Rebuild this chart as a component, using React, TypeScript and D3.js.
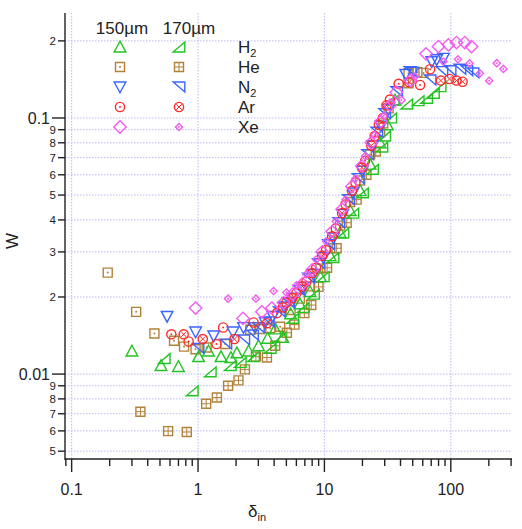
import React, { useEffect, useRef } from 'react';
import * as d3 from 'd3';

// [delta_in, W] pairs
const h2_150 = [[0.30,0.0123],[0.51,0.0108],[0.70,0.0107],[1.01,0.0117],[1.21,0.0123],[1.52,0.0117],[1.82,0.0116],[2.03,0.0121],[2.51,0.0123],[3.01,0.0129],[3.55,0.0138],[4.08,0.0150],[4.68,0.0139],[5.4,0.0172],[6.4,0.0188],[7.7,0.021],[9.3,0.024],[11.1,0.029],[13.3,0.0357],[16,0.0435],[19.2,0.052],[23,0.066],[27.6,0.080],[31.5,0.094],[36.2,0.1175]];
const h2_170 = [[0.54,0.0115],[0.90,0.0086],[1.25,0.0102],[1.80,0.0108],[2.16,0.0111],[2.75,0.0117],[3.73,0.0126],[4.47,0.0139],[5.6,0.0165],[6.8,0.0182],[8.2,0.0205],[9.8,0.024],[11.7,0.0285],[14,0.0355],[16.8,0.0425],[20,0.051],[24,0.063],[28.5,0.077],[30,0.085],[33.5,0.100],[35,0.1175],[44.8,0.1134],[55.2,0.1168],[64.4,0.1194],[72.9,0.1249],[82.3,0.1325]];
const he_150 = [[0.193,0.0249],[0.324,0.0175],[0.452,0.0144],[0.646,0.0135],[0.775,0.0128],[0.956,0.0125],[1.17,0.0127],[1.64,0.0131],[2.59,0.0149],[3.11,0.0150],[3.73,0.0151],[4.47,0.0153],[5.4,0.0178],[6.4,0.0197],[7.7,0.022],[9.3,0.0258],[11.1,0.031],[13.3,0.038],[16,0.047],[19.2,0.057],[23,0.072],[27.6,0.088],[32.2,0.109],[46.3,0.1495],[54.4,0.151],[60.8,0.150]];
const he_170 = [[0.35,0.00713],[0.58,0.00599],[0.815,0.00594],[1.16,0.00766],[1.41,0.0081],[1.73,0.0090],[2.09,0.00945],[2.35,0.01043],[2.87,0.0117],[3.51,0.0116],[4.08,0.0129],[5.05,0.0145],[5.79,0.0156],[6.94,0.0173],[7.87,0.0186],[8.98,0.0219],[10.5,0.026],[12.5,0.031],[15,0.039],[18,0.048],[21.5,0.060],[25.5,0.074],[29.2,0.0953],[46.3,0.1367]];
const n2_150 = [[0.569,0.0168],[0.957,0.0146],[1.33,0.0141],[1.89,0.0146],[2.29,0.0152],[2.82,0.0152],[3.40,0.0159],[3.91,0.0168],[4.8,0.0183],[5.7,0.0198],[6.8,0.0218],[8.2,0.0245],[9.8,0.0285],[11.8,0.034],[14,0.042],[16.8,0.051],[20,0.062],[24,0.078],[28,0.093],[32,0.108],[44,0.148],[50,0.151],[70.7,0.166],[77.3,0.169],[87.4,0.171]];
const n2_170 = [[1.0,0.0126],[1.66,0.0131],[2.30,0.0136],[2.7,0.0142],[3.0,0.0152],[3.6,0.016],[4.4,0.0175],[5.2,0.019],[6.3,0.0212],[7.5,0.0237],[9.0,0.027],[10.8,0.032],[13,0.039],[15.5,0.048],[18.5,0.058],[22,0.072],[26,0.088],[30,0.104],[37.3,0.1267],[47.7,0.1518],[68.6,0.1407],[85,0.1518],[98.7,0.153],[118,0.155],[134,0.153],[150,0.150]];
const ar_150 = [[0.615,0.0143],[0.843,0.0134],[1.40,0.0131],[1.58,0.0152],[2.75,0.0159],[4.21,0.0173],[5.0,0.019],[6.0,0.0207],[7.2,0.023],[8.6,0.026],[10.3,0.0305],[12.3,0.037],[14.7,0.046],[17.6,0.056],[21,0.068],[25,0.085],[29,0.100],[33,0.118],[38.7,0.136],[57.2,0.1346],[68.6,0.155]];
const ar_170 = [[0.77,0.0143],[1.09,0.0137],[1.94,0.0137],[3.51,0.0158],[4.7,0.0182],[5.6,0.0198],[6.7,0.022],[8.0,0.0248],[9.6,0.029],[11.5,0.0345],[13.8,0.0425],[16.5,0.052],[19.8,0.064],[23.5,0.078],[27,0.094],[31,0.112],[47,0.138],[83.5,0.140],[97.6,0.142],[111,0.140],[124,0.1385]];
const xe_150 = [[0.957,0.0181],[2.27,0.0165],[3.20,0.0175],[3.84,0.0181],[4.75,0.0190],[5.6,0.0205],[6.7,0.0225],[8.0,0.0255],[9.6,0.030],[11.5,0.036],[13.8,0.044],[16.5,0.054],[19.8,0.065],[23.5,0.080],[28,0.097],[33,0.112],[37,0.126],[48,0.140],[63.7,0.178],[79.9,0.190],[95.7,0.193],[111,0.197],[129,0.197],[146,0.190]];
const xe_170 = [[1.73,0.0197],[2.87,0.0197],[3.96,0.0211],[5.0,0.0208],[6.0,0.0222],[7.2,0.0245],[8.6,0.028],[10.3,0.033],[12.3,0.0395],[14.7,0.048],[17.6,0.058],[21,0.071],[25,0.086],[29.5,0.102],[34,0.115],[40.8,0.1175],[52,0.145],[87.4,0.166],[114,0.1695],[141,0.1636],[170,0.1494],[201,0.1398],[231,0.1637],[261,0.1555]];

const gases = ['H2', 'He', 'N2', 'Ar', 'Xe'];
const xTicks = [0.1, 1, 10, 100];
const xTickLabels = ['0.1', '1', '10', '100'];
const yMajor = [0.01, 0.1];
const yMajorLabels = ['0.01', '0.1'];

const GREEN = '#22c322';
const BROWN = '#b2823a';
const BLUE = '#3a66ff';
const RED = '#ff2a2a';
const PINK = '#f45cf0';

const series = [
  { data: he_170, color: BROWN, shape: 'square', deco: 'plus', size: 4.5, row: 1, col: 1 },
  { data: he_150, color: BROWN, shape: 'square', deco: 'dot', size: 4.5, row: 1, col: 0 },
  { data: h2_170, color: GREEN, shape: 'rtri', deco: null, size: 5.8, row: 0, col: 1 },
  { data: h2_150, color: GREEN, shape: 'up', deco: null, size: 5.8, row: 0, col: 0 },
  { data: n2_170, color: BLUE, shape: 'ltri', deco: null, size: 5.8, row: 2, col: 1 },
  { data: n2_150, color: BLUE, shape: 'down', deco: null, size: 5.8, row: 2, col: 0 },
  { data: ar_170, color: RED, shape: 'circle', deco: 'x', size: 4.6, row: 3, col: 1 },
  { data: ar_150, color: RED, shape: 'circle', deco: 'dot', size: 4.6, row: 3, col: 0 },
  { data: xe_170, color: PINK, shape: 'diamond', deco: 'dot', size: 3.6, row: 4, col: 1 },
  { data: xe_150, color: PINK, shape: 'diamond', deco: null, size: 6.2, row: 4, col: 0 },
];

function shapePath(shape, s) {
  const h = s * 0.85;
  switch (shape) {
    case 'up': return `M0,${-s}L${s},${h}L${-s},${h}Z`;
    case 'down': return `M${-s},${-h}L${s},${-h}L0,${s}Z`;
    case 'rtri': return `M${-s},${h}L${s},${h}L${s},${-h}Z`;
    case 'ltri': return `M${-s},${-h}L${s},${-h}L${s},${h}Z`;
    case 'square': return `M${-s},${-s}H${s}V${s}H${-s}Z`;
    case 'diamond': return `M0,${-s}L${s},0L0,${s}L${-s},0Z`;
    default: return `M${s},0A${s},${s} 0 1,1 ${-s},0A${s},${s} 0 1,1 ${s},0Z`;
  }
}

function decoPath(deco, s) {
  if (deco === 'plus') return `M${-s},0H${s}M0,${-s}V${s}`;
  if (deco === 'x') { const d = s * 0.6; return `M${-d},${-d}L${d},${d}M${-d},${d}L${d},${-d}`; }
  return null;
}

function drawMarker(g, sr, x, y) {
  const m = g.append('g').attr('transform', `translate(${x},${y})`);
  m.append('path')
    .attr('d', shapePath(sr.shape, sr.size))
    .attr('fill', 'none')
    .attr('stroke', sr.color)
    .attr('stroke-width', 1.4);
  const dp = decoPath(sr.deco, sr.size);
  if (dp) m.append('path').attr('d', dp).attr('stroke', sr.color).attr('stroke-width', 1);
  if (sr.deco === 'dot') m.append('circle').attr('r', 1).attr('fill', sr.color);
}

const App = () => {
  const ref = useRef(null);

  useEffect(() => {
    const width = 522, height = 529;
    const left = 65, right = 512, top = 13, bottom = 459;
    const font = '"Liberation Sans", Arial, Helvetica, sans-serif';

    d3.select(ref.current).selectAll('*').remove();
    const svg = d3.select(ref.current)
      .attr('width', width)
      .attr('height', height)
      .style('font-family', font);

    const x = d3.scaleLog().domain([0.0886, 305]).range([left, right]);
    const y = d3.scaleLog().domain([0.00466, 0.257]).range([bottom, top]);

    const yTicks = y.ticks().filter(v => v >= y.domain()[0] && v <= y.domain()[1]);
    const xMinor = x.ticks().filter(v => v >= x.domain()[0] && v <= x.domain()[1]);

    // grid
    const grid = svg.append('g')
      .attr('stroke', '#b9b9f5')
      .attr('stroke-width', 1)
      .attr('stroke-dasharray', '1.5,1.5');
    yTicks.forEach(v => {
      grid.append('line').attr('x1', left).attr('x2', right).attr('y1', y(v)).attr('y2', y(v));
    });
    xTicks.forEach(v => {
      grid.append('line').attr('x1', x(v)).attr('x2', x(v)).attr('y1', top).attr('y2', bottom);
    });

    // axes
    const ax = svg.append('g').attr('stroke', '#222').attr('stroke-width', 1.4);
    ax.append('line').attr('x1', left).attr('x2', left).attr('y1', top).attr('y2', bottom + 1);
    ax.append('line').attr('x1', left).attr('x2', right).attr('y1', bottom).attr('y2', bottom);

    xMinor.forEach(v => {
      const major = xTicks.some(t => Math.abs(t - v) < 1e-9);
      ax.append('line').attr('x1', x(v)).attr('x2', x(v))
        .attr('y1', bottom).attr('y2', bottom + (major ? 13 : 7));
    });

    yTicks.forEach(v => {
      const major = yMajor.some(t => Math.abs(t - v) < 1e-12);
      ax.append('line').attr('y1', y(v)).attr('y2', y(v))
        .attr('x1', left - (major ? 13 : 7)).attr('x2', left);
    });

    // tick labels
    xTicks.forEach((v, i) => {
      svg.append('text').attr('x', x(v)).attr('y', bottom + 36)
        .attr('text-anchor', 'middle').attr('font-size', 16).attr('fill', '#222')
        .text(xTickLabels[i]);
    });
    yTicks.forEach(v => {
      const mi = yMajor.findIndex(t => Math.abs(t - v) < 1e-12);
      if (mi >= 0) {
        svg.append('text').attr('x', left - 15).attr('y', y(v) + 6)
          .attr('text-anchor', 'end').attr('font-size', 16).attr('fill', '#222')
          .text(yMajorLabels[mi]);
      } else {
        const digit = Math.round(v / Math.pow(10, Math.floor(Math.log10(v) + 1e-9)));
        svg.append('text').attr('x', left - 9).attr('y', y(v) + 4)
          .attr('text-anchor', 'end').attr('font-size', 11.5).attr('fill', '#222')
          .text(String(digit));
      }
    });

    // axis titles
    svg.append('text')
      .attr('transform', `translate(18,241) rotate(-90)`)
      .attr('text-anchor', 'middle').attr('font-size', 17).attr('fill', '#222')
      .text('W');
    const xt = svg.append('text')
      .attr('x', 257).attr('y', 517)
      .attr('text-anchor', 'middle').attr('font-size', 17).attr('fill', '#222');
    xt.append('tspan').text('δ');
    xt.append('tspan').attr('font-size', 11).attr('dy', 4).text('in');

    // data
    const plot = svg.append('g');
    series.forEach(sr => {
      sr.data.forEach(([dx, w]) => drawMarker(plot, sr, x(dx), y(w)));
    });

    // legend
    const lg = svg.append('g');
    lg.append('text').attr('x', 122).attr('y', 34).attr('text-anchor', 'middle')
      .attr('font-size', 17).attr('fill', '#222').text('150µm');
    lg.append('text').attr('x', 189).attr('y', 34).attr('text-anchor', 'middle')
      .attr('font-size', 17).attr('fill', '#222').text('170µm');
    series.forEach(sr => {
      drawMarker(lg, sr, sr.col === 0 ? 120 : 179, 47 + sr.row * 20);
    });
    gases.forEach((gname, i) => {
      const t = lg.append('text').attr('x', 238).attr('y', 53 + i * 20)
        .attr('font-size', 17).attr('fill', '#222');
      const m = gname.match(/^([A-Za-z]+)(\d*)$/);
      t.append('tspan').text(m[1]);
      if (m[2]) t.append('tspan').attr('font-size', 11).attr('dy', 4).text(m[2]);
    });
  }, []);

  return <svg ref={ref} style={{ position: 'absolute', left: 0, top: 0 }} />;
};

export default App;
